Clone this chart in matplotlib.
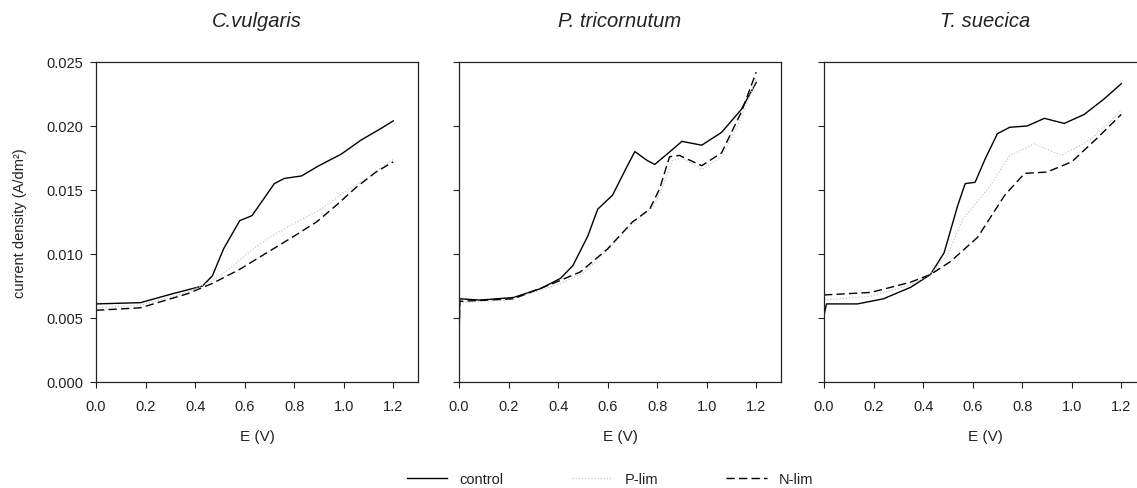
import numpy as np
import matplotlib
matplotlib.use("Agg")
import matplotlib.pyplot as plt

plt.rcParams['font.family'] = ['Liberation Sans', 'DejaVu Sans']

titles = ["C.vulgaris", "P. tricornutum", "T. suecica"]

# C. vulgaris
cv_ctrl_e = [0.0, 0.18, 0.31, 0.43, 0.47, 0.515, 0.58, 0.63, 0.72, 0.76, 0.83, 0.9, 0.99, 1.07, 1.15, 1.2]
cv_ctrl_v = [0.0061, 0.0062, 0.0069, 0.0075, 0.0083, 0.0104, 0.0126, 0.0130, 0.0155, 0.0159, 0.0161, 0.0169, 0.0178, 0.0189, 0.0198, 0.0204]
cv_plim_e = [0.0, 0.18, 0.37, 0.47, 0.55, 0.62, 0.7, 0.8, 0.9, 1.0, 1.1, 1.2]
cv_plim_v = [0.0058, 0.0060, 0.0070, 0.0079, 0.0090, 0.0102, 0.0113, 0.0124, 0.0134, 0.0148, 0.0160, 0.0174]
cv_nlim_e = [0.0, 0.18, 0.37, 0.47, 0.58, 0.69, 0.8, 0.89, 0.97, 1.05, 1.13, 1.2]
cv_nlim_v = [0.0056, 0.0058, 0.0069, 0.0077, 0.0088, 0.0101, 0.0114, 0.0125, 0.0138, 0.0152, 0.0164, 0.0172]

# P. tricornutum
pt_ctrl_e = [0.0, 0.003, 0.085, 0.22, 0.33, 0.41, 0.46, 0.52, 0.56, 0.62, 0.68, 0.71, 0.76, 0.79, 0.84, 0.9, 0.98, 1.06, 1.14, 1.2]
pt_ctrl_v = [0.0027, 0.0065, 0.0064, 0.0066, 0.0073, 0.0081, 0.0091, 0.0114, 0.0135, 0.0146, 0.0169, 0.0180, 0.0173, 0.0170, 0.0178, 0.0188, 0.0185, 0.0195, 0.0213, 0.0234]
pt_plim_e = [0.0, 0.003, 0.2, 0.4, 0.5, 0.6, 0.7, 0.78, 0.82, 0.86, 0.9, 0.98, 1.06, 1.14, 1.2]
pt_plim_v = [0.0030, 0.0062, 0.0064, 0.0076, 0.0085, 0.0103, 0.0124, 0.0136, 0.0151, 0.0173, 0.0175, 0.0166, 0.0176, 0.0206, 0.0237]
pt_nlim_e = [0.0, 0.003, 0.22, 0.38, 0.49, 0.6, 0.7, 0.77, 0.81, 0.85, 0.89, 0.98, 1.06, 1.14, 1.2]
pt_nlim_v = [0.0030, 0.0063, 0.0065, 0.0077, 0.0086, 0.0104, 0.0125, 0.0135, 0.0151, 0.0176, 0.0177, 0.0169, 0.0179, 0.0211, 0.0242]

# T. suecica
ts_ctrl_e = [0.0, 0.01, 0.135, 0.24, 0.35, 0.43, 0.485, 0.54, 0.57, 0.61, 0.65, 0.7, 0.75, 0.82, 0.89, 0.97, 1.05, 1.13, 1.2]
ts_ctrl_v = [0.0052, 0.0061, 0.0061, 0.0065, 0.0074, 0.0084, 0.0101, 0.0138, 0.0155, 0.0156, 0.0174, 0.0194, 0.0199, 0.0200, 0.0206, 0.0202, 0.0209, 0.0221, 0.0233]
ts_plim_e = [0.0, 0.19, 0.35, 0.43, 0.5, 0.56, 0.67, 0.75, 0.85, 0.96, 1.08, 1.2]
ts_plim_v = [0.0064, 0.0067, 0.0076, 0.0084, 0.0100, 0.0127, 0.0153, 0.0177, 0.0186, 0.0177, 0.0190, 0.0212]
ts_nlim_e = [0.0, 0.19, 0.35, 0.43, 0.51, 0.62, 0.73, 0.81, 0.9, 1.0, 1.1, 1.2]
ts_nlim_v = [0.0068, 0.0070, 0.0078, 0.0084, 0.0094, 0.0113, 0.0146, 0.0163, 0.0164, 0.0172, 0.0190, 0.0209]

series = [
    [(cv_ctrl_e, cv_ctrl_v), (cv_plim_e, cv_plim_v), (cv_nlim_e, cv_nlim_v)],
    [(pt_ctrl_e, pt_ctrl_v), (pt_plim_e, pt_plim_v), (pt_nlim_e, pt_nlim_v)],
    [(ts_ctrl_e, ts_ctrl_v), (ts_plim_e, ts_plim_v), (ts_nlim_e, ts_nlim_v)],
]
labels = ["control", "P-lim", "N-lim"]
styles = [
    dict(color="black", lw=1.0, ls="-"),
    dict(color="#c8c8c8", lw=0.9, ls=(0, (1, 1.5))),
    dict(color="black", lw=1.0, ls=(0, (6, 3))),
]

W, H = 1137, 489
fig = plt.figure(figsize=(W / 100, H / 100), dpi=100)
lefts = [96, 459, 824]
txt = "#222222"

for i, left in enumerate(lefts):
    ax = fig.add_axes([left / W, 1 - 383 / H, 322 / W, 320 / H])
    for (e, v), lab, st in zip(series[i], labels, styles):
        ax.plot(e, v, label=lab, **st)
    ax.set_xlim(0, 1.3)
    ax.set_ylim(0, 0.025)
    ax.set_xticks(np.arange(0, 1.21, 0.2))
    ax.set_yticks(np.arange(0, 0.0251, 0.005))
    ax.tick_params(direction="out", length=4, width=0.8, labelsize=10.5,
                   colors="#222222")
    ax.tick_params(axis="x", pad=8)
    ax.tick_params(axis="y", pad=5)
    for sp in ax.spines.values():
        sp.set_linewidth(0.9)
        sp.set_color("#222222")
    ax.xaxis.set_major_formatter(matplotlib.ticker.FormatStrFormatter("%.1f"))
    if i == 0:
        ax.yaxis.set_major_formatter(matplotlib.ticker.FormatStrFormatter("%.3f"))
        ax.set_ylabel("current density (A/dm²)", fontsize=10.5, color=txt, labelpad=14)
    else:
        ax.set_yticklabels([])
    ax.set_xlabel("E (V)", fontsize=11, color=txt, labelpad=12)
    ax.text(0.5, (383 - 22) / 320, titles[i], transform=ax.transAxes,
            ha="center", va="center", fontsize=14.5, style="italic", color=txt)
    if i == 0:
        handles, labs = ax.get_legend_handles_labels()

fig.legend(handles, labs, loc="center", bbox_to_anchor=(610 / W, 1 - 480 / H),
           ncol=3, frameon=False, fontsize=10.5, handlelength=2.8,
           handletextpad=0.8, columnspacing=4.7, labelcolor=txt)

fig.savefig("out.png", dpi=100)
